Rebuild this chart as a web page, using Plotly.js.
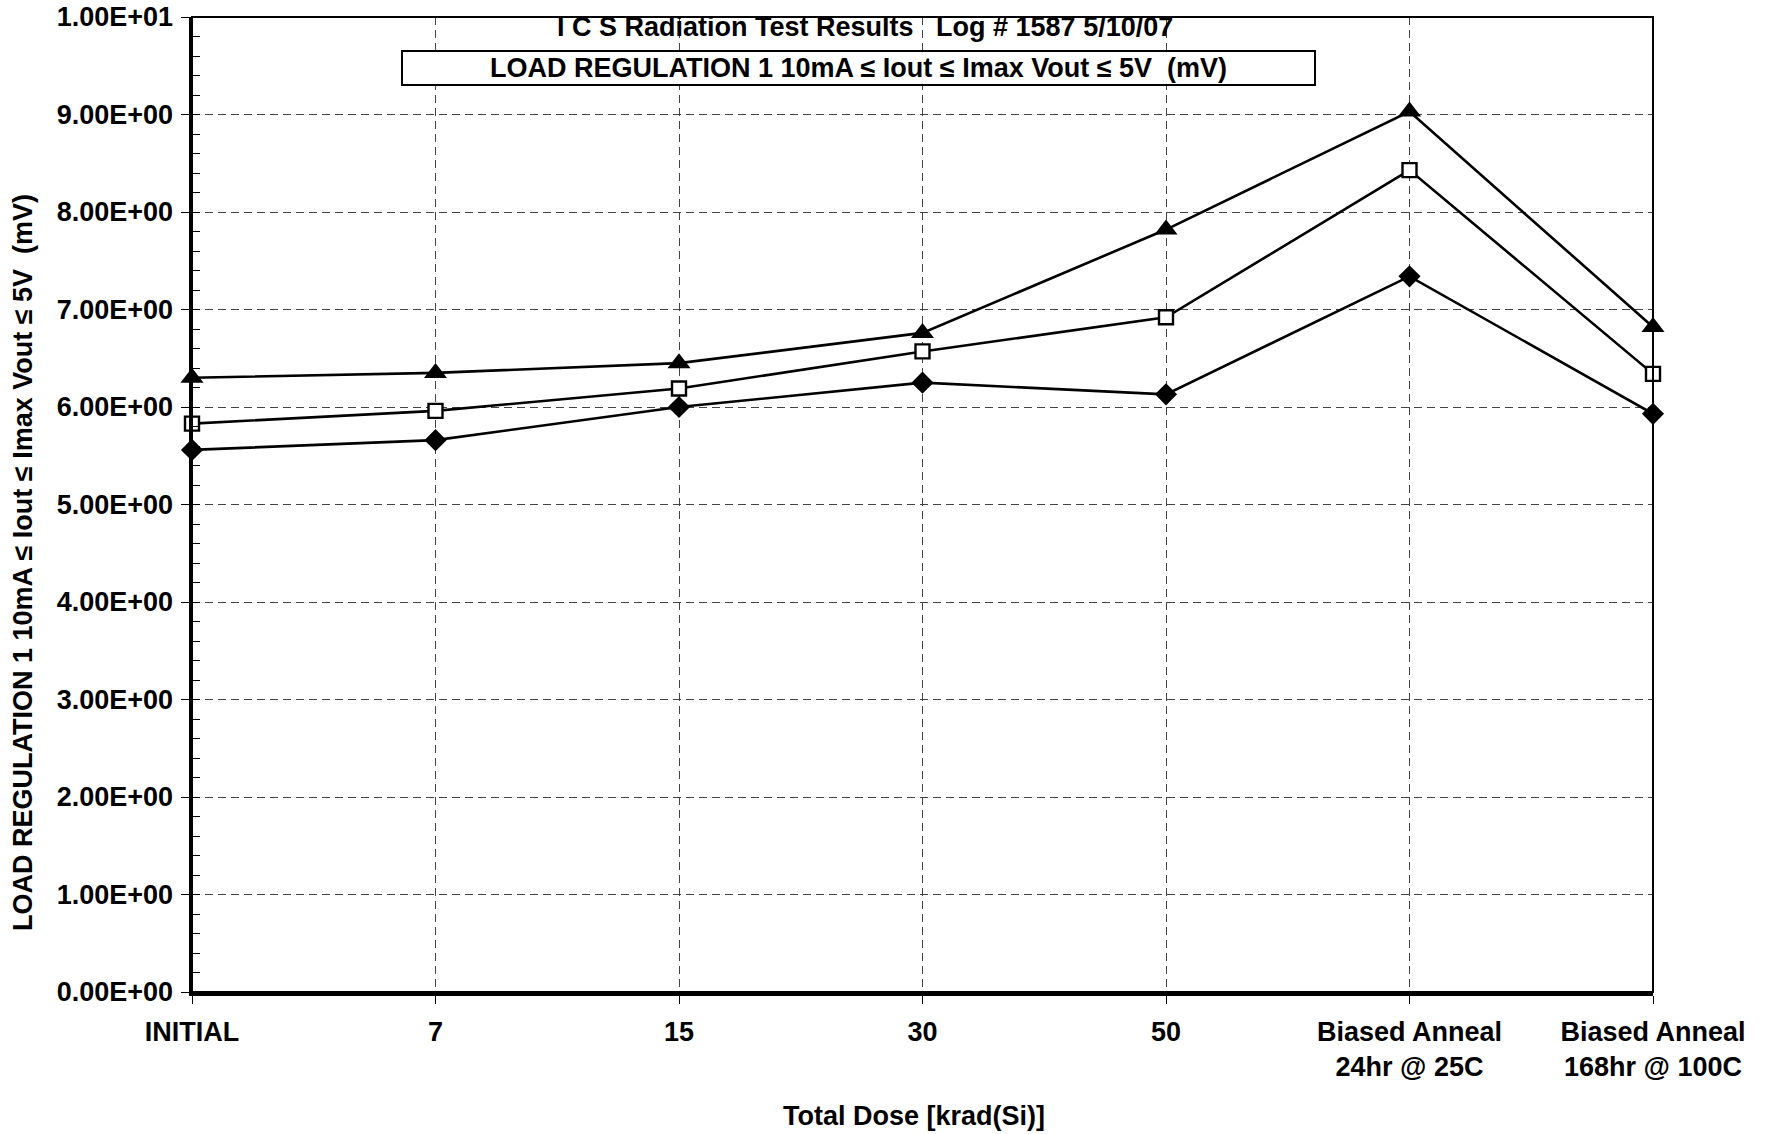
<!DOCTYPE html>
<html>
<head>
<meta charset="utf-8">
<script src="https://cdn.plot.ly/plotly-3.0.1.min.js"></script>
<style>
html, body { margin: 0; padding: 0; background: #fff; }
#chart { width: 1771px; height: 1134px; }
</style>
</head>
<body>
<div id="chart"></div>
<script>
// ---- data ----
const categories = [
  "INITIAL", "7", "15", "30", "50",
  "Biased Anneal<br>24hr @ 25C",
  "Biased Anneal<br>168hr @ 100C"
];
const seriesNames = ["Unit A", "Unit B", "Unit C"];
const triangleValues = [6.30, 6.35, 6.45, 6.76, 7.82, 9.03, 6.82];
const squareValues   = [5.83, 5.96, 6.19, 6.57, 6.92, 8.43, 6.34];
const diamondValues  = [5.56, 5.66, 6.00, 6.25, 6.13, 7.34, 5.93];
const yTickVals   = [0, 1, 2, 3, 4, 5, 6, 7, 8, 9, 10];
const yTickLabels = ["0.00E+00", "1.00E+00", "2.00E+00", "3.00E+00", "4.00E+00",
                     "5.00E+00", "6.00E+00", "7.00E+00", "8.00E+00", "9.00E+00", "1.00E+01"];
const subtitleText = "I C S Radiation Test Results   Log # 1587 5/10/07";
const boxTitleText = "LOAD REGULATION 1 10mA \u2264 Iout \u2264 Imax Vout \u2264 5V  (mV)";
const yTitleText   = "LOAD REGULATION 1 10mA \u2264 Iout \u2264 Imax Vout \u2264 5V  (mV)";
const xTitleText   = "Total Dose [krad(Si)]";

const FONT = "Liberation Sans, Arial, sans-serif";
const FS = 27;

function series(name, values, symbol, size, fill, lineW) {
  return {
    type: "scatter",
    mode: "lines+markers",
    name: name,
    x: categories,
    y: values,
    cliponaxis: false,
    line: { color: "#000", width: 2.6 },
    marker: { symbol: symbol, size: size, color: fill, line: { color: "#000", width: lineW } },
    showlegend: false
  };
}

const data = [
  series(seriesNames[0], triangleValues, "triangle-up", 20, "#000", 0),
  series(seriesNames[1], squareValues, "square", 14, "#fff", 2.4),
  series(seriesNames[2], diamondValues, "diamond", 17, "#000", 0)
];

const layout = {
  width: 1771,
  height: 1134,
  margin: { l: 192, r: 118, t: 17, b: 142 },
  paper_bgcolor: "#fff",
  plot_bgcolor: "#fff",
  font: { family: FONT, size: FS, color: "#000", weight: "bold" },
  xaxis: {
    type: "category",
    range: [0, 6],
    showgrid: true,
    gridcolor: "#444",
    griddash: "8px,5px",
    gridwidth: 1,
    showline: true,
    linecolor: "#000",
    linewidth: 3.5,
    ticks: "outside",
    ticklen: 8,
    tickwidth: 1,
    tickcolor: "#000",
    ticklabelstandoff: 5,
    tickfont: { family: FONT, size: FS, color: "#000", weight: "bold" },
    zeroline: false,
    fixedrange: true
  },
  yaxis: {
    range: [0, 10],
    tickmode: "array",
    tickvals: yTickVals,
    ticktext: yTickLabels,
    showgrid: true,
    gridcolor: "#444",
    griddash: "8px,5px",
    gridwidth: 1,
    showline: true,
    linecolor: "#000",
    linewidth: 3.5,
    ticks: "outside",
    ticklen: 8,
    tickwidth: 1,
    tickcolor: "#000",
    ticklabelstandoff: 2,
    tickfont: { family: FONT, size: FS, color: "#000", weight: "bold" },
    minor: { dtick: 0.2, ticks: "inside", ticklen: 8, tickwidth: 1, tickcolor: "#000", showgrid: false },
    zeroline: false,
    fixedrange: true
  },
  shapes: [
    { type: "rect", xref: "paper", yref: "paper", x0: 0, x1: 1, y0: 0, y1: 1,
      line: { color: "#000", width: 2 }, fillcolor: "rgba(0,0,0,0)", layer: "above" }
  ],
  annotations: [
    { text: subtitleText, xref: "paper", yref: "paper", x: 0.4606, y: 0.9897,
      xanchor: "center", yanchor: "middle", showarrow: false,
      font: { family: FONT, size: FS, color: "#000", weight: "bold" } },
    { text: boxTitleText, xref: "paper", yref: "paper", x: 0.4565, y: 0.9477,
      xanchor: "center", yanchor: "middle", showarrow: false,
      bgcolor: "#fff", bordercolor: "#000", borderwidth: 2, borderpad: 1,
      width: 909, height: 30,
      font: { family: FONT, size: FS, color: "#000", weight: "bold" } },
    { text: yTitleText, xref: "paper", yref: "paper", x: -0.1157, y: 0.441,
      xanchor: "center", yanchor: "middle", textangle: -90, showarrow: false,
      font: { family: FONT, size: FS, color: "#000", weight: "bold" } },
    { text: xTitleText, xref: "paper", yref: "paper", x: 0.494, y: -0.127,
      xanchor: "center", yanchor: "middle", showarrow: false,
      font: { family: FONT, size: FS, color: "#000", weight: "bold" } }
  ]
};

Plotly.newPlot("chart", data, layout, { displayModeBar: false, staticPlot: true });
</script>
</body>
</html>
